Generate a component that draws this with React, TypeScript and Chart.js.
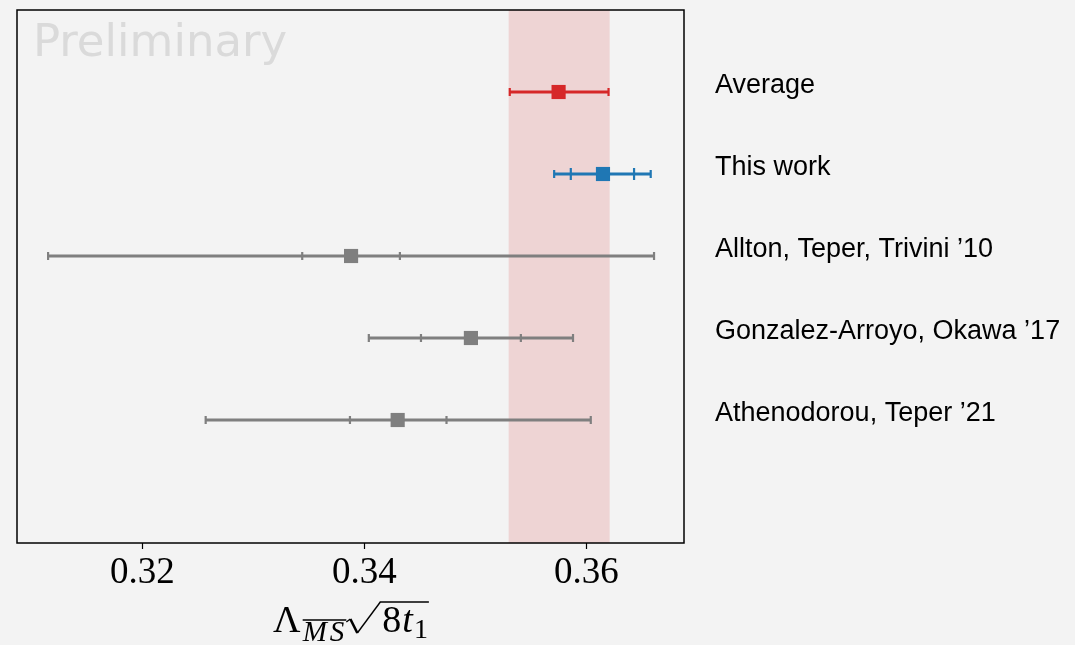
import React, { useEffect, useRef } from 'react';
import { Chart, registerables } from 'chart.js';

Chart.register(...registerables);

// ---- data ----
const studies = [
  'Average',
  'This work',
  'Allton, Teper, Trivini \u201910',
  'Gonzalez-Arroyo, Okawa \u201917',
  'Athenodorou, Teper \u201921',
];
const centralValues = [0.3575, 0.3615, 0.3388, 0.3496, 0.343];
const totalLow = [0.3531, 0.3571, 0.3115, 0.3404, 0.3257];
const totalHigh = [0.362, 0.3658, 0.3661, 0.3588, 0.3604];
const statLow: (number | null)[] = [null, 0.3586, 0.3344, 0.3451, 0.3387];
const statHigh: (number | null)[] = [null, 0.3643, 0.3432, 0.3541, 0.3474];
const averageBand = [0.353, 0.3621];
const xTicks = [0.32, 0.34, 0.36];
const xRange = [0.3087, 0.3688];
const yRange = [-1, 5.5];

// ---- styles ----
const seriesColors = ['#d62728', '#1f77b4', '#7f7f7f', '#7f7f7f', '#7f7f7f'];
const BG = '#f3f3f3';

function drawXLabel(ctx: CanvasRenderingContext2D, cx: number, baseY: number) {
  const fUp = '38px "Liberation Serif"';
  const fIt = 'italic 38px "Liberation Serif"';
  const fSubIt = 'italic 29px "Liberation Serif"';
  const fSub = '28px "Liberation Serif"';
  ctx.save();
  ctx.fillStyle = '#000';
  ctx.strokeStyle = '#000';
  ctx.textBaseline = 'alphabetic';
  ctx.textAlign = 'left';
  ctx.font = fUp;
  const wL = ctx.measureText('\u039b').width;
  ctx.font = fSubIt;
  const wM = ctx.measureText('M').width;
  const wS = ctx.measureText('S').width;
  const wMS = wM + 3 + wS;
  const radW = 34;
  ctx.font = fUp;
  const w8 = ctx.measureText('8').width;
  ctx.font = fIt;
  const wt = ctx.measureText('t').width;
  ctx.font = fSub;
  const w1 = ctx.measureText('1').width;
  const total = wL + 2 + wMS + 2 + radW + 2 + w8 + 1 + wt + 1 + w1;
  let x = cx - total / 2;
  ctx.font = fUp;
  ctx.fillText('\u039b', x, baseY);
  x += wL + 2;
  const subY = baseY + 9;
  ctx.font = fSubIt;
  ctx.fillText('M', x, subY);
  ctx.fillText('S', x + wM + 3, subY);
  ctx.lineWidth = 1.6;
  ctx.beginPath();
  ctx.moveTo(x, baseY - 12);
  ctx.lineTo(x + wMS + 2, baseY - 12);
  ctx.stroke();
  x += wMS + 2;
  // radical
  const topY = baseY - 30;
  ctx.lineJoin = 'miter';
  ctx.beginPath();
  ctx.moveTo(x, baseY - 10);
  ctx.lineTo(x + 4, baseY - 13);
  ctx.lineWidth = 1.4;
  ctx.stroke();
  ctx.beginPath();
  ctx.moveTo(x + 4, baseY - 13);
  ctx.lineTo(x + 11, baseY + 1);
  ctx.lineWidth = 2.6;
  ctx.stroke();
  ctx.beginPath();
  ctx.moveTo(x + 11, baseY + 1);
  ctx.lineTo(x + radW, topY);
  ctx.lineWidth = 1.4;
  ctx.stroke();
  const endX = x + radW + 2 + w8 + 1 + wt + 1 + w1 + 1;
  ctx.beginPath();
  ctx.moveTo(x + radW - 0.5, topY);
  ctx.lineTo(endX, topY);
  ctx.lineWidth = 1.6;
  ctx.stroke();
  x += radW + 2;
  ctx.font = fUp;
  ctx.fillText('8', x, baseY);
  x += w8 + 1;
  ctx.font = fIt;
  ctx.fillText('t', x, baseY);
  x += wt + 1;
  ctx.font = fSub;
  ctx.fillText('1', x, baseY + 6);
  ctx.restore();
}

const forestPlugin = {
  id: 'forest',
  beforeDraw(chart: any) {
    const ctx = chart.ctx;
    ctx.save();
    ctx.fillStyle = BG;
    ctx.fillRect(0, 0, chart.width, chart.height);
    ctx.restore();
  },
  beforeDatasetsDraw(chart: any) {
    const { ctx, chartArea: a, scales } = chart;
    const xs = scales.x;
    const ys = scales.y;
    ctx.save();
    ctx.beginPath();
    ctx.rect(a.left, a.top, a.right - a.left, a.bottom - a.top);
    ctx.clip();
    // watermark
    ctx.font = '45px "DejaVu Sans"';
    ctx.fillStyle = '#dadada';
    ctx.textBaseline = 'alphabetic';
    ctx.fillText('Preliminary', a.left + 16, a.top + 46);
    // band
    const b0 = xs.getPixelForValue(averageBand[0]);
    const b1 = xs.getPixelForValue(averageBand[1]);
    ctx.fillStyle = 'rgba(214,39,40,0.15)';
    ctx.fillRect(b0, a.top, b1 - b0, a.bottom - a.top);
    // error bars
    for (let i = 0; i < studies.length; i++) {
      const y = ys.getPixelForValue(i);
      const lo = xs.getPixelForValue(totalLow[i]);
      const hi = xs.getPixelForValue(totalHigh[i]);
      ctx.strokeStyle = seriesColors[i];
      ctx.lineWidth = 2.8;
      ctx.beginPath();
      ctx.moveTo(lo, y);
      ctx.lineTo(hi, y);
      ctx.stroke();
      ctx.lineWidth = 2.2;
      const cap = (px: number, h: number) => {
        ctx.beginPath();
        ctx.moveTo(px, y - h / 2);
        ctx.lineTo(px, y + h / 2);
        ctx.stroke();
      };
      cap(lo, 8);
      cap(hi, 8);
      const sl = statLow[i];
      const sh = statHigh[i];
      if (sl != null && sh != null) {
        const h = i === 1 ? 12 : 8;
        cap(xs.getPixelForValue(sl), h);
        cap(xs.getPixelForValue(sh), h);
      }
    }
    ctx.restore();
  },
  afterDraw(chart: any) {
    const { ctx, chartArea: a, scales } = chart;
    const ys = scales.y;
    ctx.save();
    // frame
    ctx.strokeStyle = '#000';
    ctx.lineWidth = 1.5;
    ctx.strokeRect(a.left, a.top, a.right - a.left, a.bottom - a.top);
    // study labels
    ctx.font = '27px "Liberation Sans"';
    ctx.fillStyle = '#000';
    ctx.textBaseline = 'alphabetic';
    ctx.textAlign = 'left';
    for (let i = 0; i < studies.length; i++) {
      ctx.fillText(studies[i], a.right + 31, ys.getPixelForValue(i) + 1);
    }
    ctx.restore();
    drawXLabel(ctx, (a.left + a.right) / 2, 632);
  },
};

export default function App() {
  const ref = useRef<HTMLCanvasElement>(null);
  useEffect(() => {
    document.body.style.margin = '0';
    document.body.style.background = BG;
    const chart = new Chart(ref.current!, {
      type: 'scatter',
      data: {
        datasets: [
          {
            data: centralValues.map((v, i) => ({ x: v, y: i })),
            pointStyle: 'rect',
            pointRadius: 10,
            pointHoverRadius: 10,
            pointBackgroundColor: seriesColors,
            pointBorderWidth: 0,
            borderWidth: 0,
          },
        ],
      },
      options: {
        animation: false,
        responsive: false,
        devicePixelRatio: 1,
        layout: { padding: { left: 17, top: 7, right: 391, bottom: 0 } },
        plugins: { legend: { display: false }, tooltip: { enabled: false } },
        scales: {
          x: {
            type: 'linear',
            min: xRange[0],
            max: xRange[1],
            afterBuildTicks: (axis: any) => {
              axis.ticks = xTicks.map((v) => ({ value: v }));
            },
            afterFit: (axis: any) => {
              axis.height = 102;
            },
            border: { display: false },
            grid: {
              drawOnChartArea: false,
              drawTicks: true,
              tickLength: 6,
              tickColor: '#000',
              tickWidth: 1.2,
            },
            ticks: {
              padding: 2,
              color: '#000',
              font: { family: '"Liberation Serif"', size: 37 },
              callback: (v: any) => Number(v).toFixed(2),
              maxRotation: 0,
            },
          },
          y: {
            type: 'linear',
            reverse: true,
            min: yRange[0],
            max: yRange[1],
            display: false,
          },
        },
      },
      plugins: [forestPlugin],
    } as any);
    return () => chart.destroy();
  }, []);
  return (
    <div style={{ width: 1075, height: 645 }}>
      <canvas ref={ref} width={1075} height={645} style={{ display: 'block' }} />
    </div>
  );
}
